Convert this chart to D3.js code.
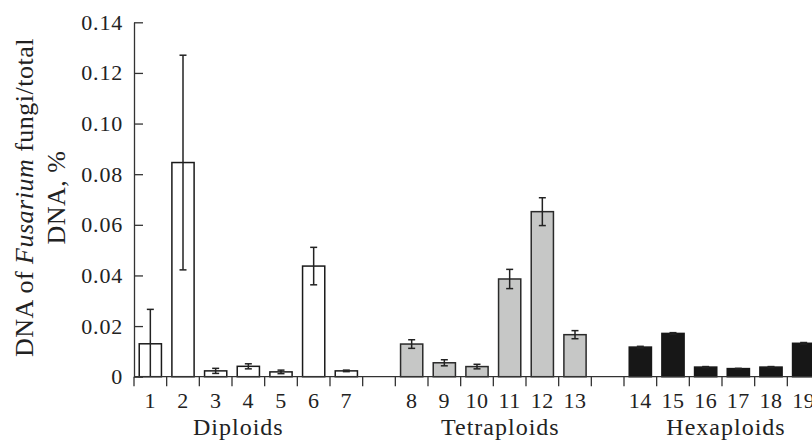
<!DOCTYPE html>
<html>
<head>
<meta charset="utf-8">
<script src="https://cdn.jsdelivr.net/npm/d3@7"></script>
<style>
  html, body { margin: 0; padding: 0; background: #fff; }
  svg { display: block; }
  svg text { font-family: "Liberation Serif", "Times New Roman", serif; }
</style>
</head>
<body>
<svg id="chart" width="812" height="443"></svg>
<script>
"use strict";

// samples (bar labels) and the group each belongs to
var categories = ["1","2","3","4","5","6","7","8","9","10","11","12","13","14","15","16","17","18","19"];
var groupOf    = [0,0,0,0,0,0,0, 1,1,1,1,1,1, 2,2,2,2,2,2];
var groupNames = ["Diploids", "Tetraploids", "Hexaploids"];

// DNA of Fusarium / total DNA, % (mean and error)
var means  = [0.0130, 0.0846, 0.0023, 0.0041, 0.0019, 0.0437, 0.0023,
              0.0129, 0.0055, 0.0040, 0.0386, 0.0652, 0.0166,
              0.0117, 0.0171, 0.0038, 0.0032, 0.0038, 0.0132];
var errors = [0.0136, 0.0424, 0.0010, 0.0010, 0.0007, 0.0074, 0.0003,
              0.0017, 0.0012, 0.0009, 0.0038, 0.0055, 0.0016,
              0.0003, 0.0003, 0.0002, 0.0001, 0.0002, 0.0003];

// slot order along x, with an empty slot between groups
var slots = ["1","2","3","4","5","6","7","gap1","8","9","10","11","12","13","gap2","14","15","16","17","18","19"];

var yTicks = [0, 0.02, 0.04, 0.06, 0.08, 0.10, 0.12, 0.14];

var fills   = ["#ffffff", "#c6c7c6", "#171717"];
var strokes = ["#1a1a1a", "#2a2a2a", "#171717"];
// nudges for the group titles, as in the figure
var groupDx = [-10, 7, 4];

var data = categories.map(function(c, i) {
    return {name: c, group: groupOf[i], value: means[i], err: errors[i]};
});

var svg = d3.select("#chart");
var W = 812;

var x = d3.scaleBand().domain(slots).range([134, 820]).padding(0);
var y = d3.scaleLinear().domain([0, 0.14]).range([376.7, 22.3]);

var ink = "#222";
var barFrac = 0.68;

// bars
svg.append("g").selectAll("rect").data(data).enter().append("rect")
    .attr("x", function(d){ return x(d.name) + x.bandwidth() * (1 - barFrac) / 2; })
    .attr("y", function(d){ return y(d.value); })
    .attr("width", x.bandwidth() * barFrac)
    .attr("height", function(d){ return y(0) - y(d.value); })
    .attr("fill", function(d){ return fills[d.group]; })
    .attr("stroke", function(d){ return strokes[d.group]; })
    .attr("stroke-width", 1.5);

// error bars
var eb = svg.append("g").attr("stroke", ink).attr("stroke-width", 1.5);
data.forEach(function(d) {
    var cx = x(d.name) + x.bandwidth() / 2;
    var lo = Math.max(0, d.value - d.err), hi = d.value + d.err;
    eb.append("line").attr("x1", cx).attr("x2", cx).attr("y1", y(lo)).attr("y2", y(hi));
    eb.append("line").attr("x1", cx - 3.5).attr("x2", cx + 3.5).attr("y1", y(hi)).attr("y2", y(hi));
    if (lo > 0) {
        eb.append("line").attr("x1", cx - 3.5).attr("x2", cx + 3.5).attr("y1", y(lo)).attr("y2", y(lo));
    }
});

// y axis, ticks pointing inward
var yAxis = d3.axisLeft(y).tickValues(yTicks)
    .tickSizeInner(-9).tickSizeOuter(0).tickPadding(11)
    .tickFormat(function(v){ return v === 0 ? "0" : d3.format(".2f")(v); });
var gy = svg.append("g").attr("transform", "translate(134,0)").call(yAxis)
    .attr("font-family", null).attr("font-size", null);
gy.selectAll("path, line").attr("stroke", "#333").attr("stroke-width", 1.3);
gy.selectAll("text").attr("fill", ink).attr("font-size", 22)
    .attr("letter-spacing", 0.8);

// x axis: baseline and ticks at slot boundaries
var gx = svg.append("g").attr("stroke", "#333").attr("stroke-width", 1.3);
gx.append("line").attr("x1", 134).attr("x2", W).attr("y1", y(0)).attr("y2", y(0));
var bounds = slots.map(function(s){ return x(s); }).concat([x.range()[1]]);
gx.selectAll("line.tk").data(bounds.filter(function(b){ return b <= W; })).enter().append("line")
    .attr("class", "tk")
    .attr("x1", function(b){ return b; }).attr("x2", function(b){ return b; })
    .attr("y1", y(0)).attr("y2", y(0) + 9.5);

// sample numbers
svg.append("g").selectAll("text").data(data).enter().append("text")
    .attr("x", function(d){ return x(d.name) + x.bandwidth() / 2; })
    .attr("y", 407.5)
    .attr("text-anchor", "middle")
    .attr("font-size", 22).attr("letter-spacing", 0.5)
    .attr("fill", ink)
    .text(function(d){ return d.name; });

// group titles, centred under each group's slots
svg.append("g").selectAll("text").data(groupNames).enter().append("text")
    .attr("x", function(g, gi) {
        var members = data.filter(function(d){ return d.group === gi; });
        var x0 = x(members[0].name), x1 = x(members[members.length - 1].name) + x.bandwidth();
        return (x0 + x1) / 2 + groupDx[gi];
    })
    .attr("y", 435)
    .attr("text-anchor", "middle")
    .attr("font-size", 24).attr("letter-spacing", 1)
    .attr("fill", ink)
    .text(function(g){ return g; });

// y axis title, two lines
var yMid = (y(0) + y(0.14)) / 2 - 2;
var t1 = svg.append("text")
    .attr("transform", "translate(33," + yMid + ") rotate(-90)")
    .attr("text-anchor", "middle")
    .attr("font-size", 26).attr("letter-spacing", 0.5)
    .attr("fill", ink);
t1.append("tspan").text("DNA of ");
t1.append("tspan").attr("font-style", "italic").text("Fusarium");
t1.append("tspan").text(" fungi/total");

svg.append("text")
    .attr("transform", "translate(65," + yMid + ") rotate(-90)")
    .attr("text-anchor", "middle")
    .attr("font-size", 26).attr("letter-spacing", 0.5)
    .attr("fill", ink)
    .text("DNA, %");
</script>
</body>
</html>
